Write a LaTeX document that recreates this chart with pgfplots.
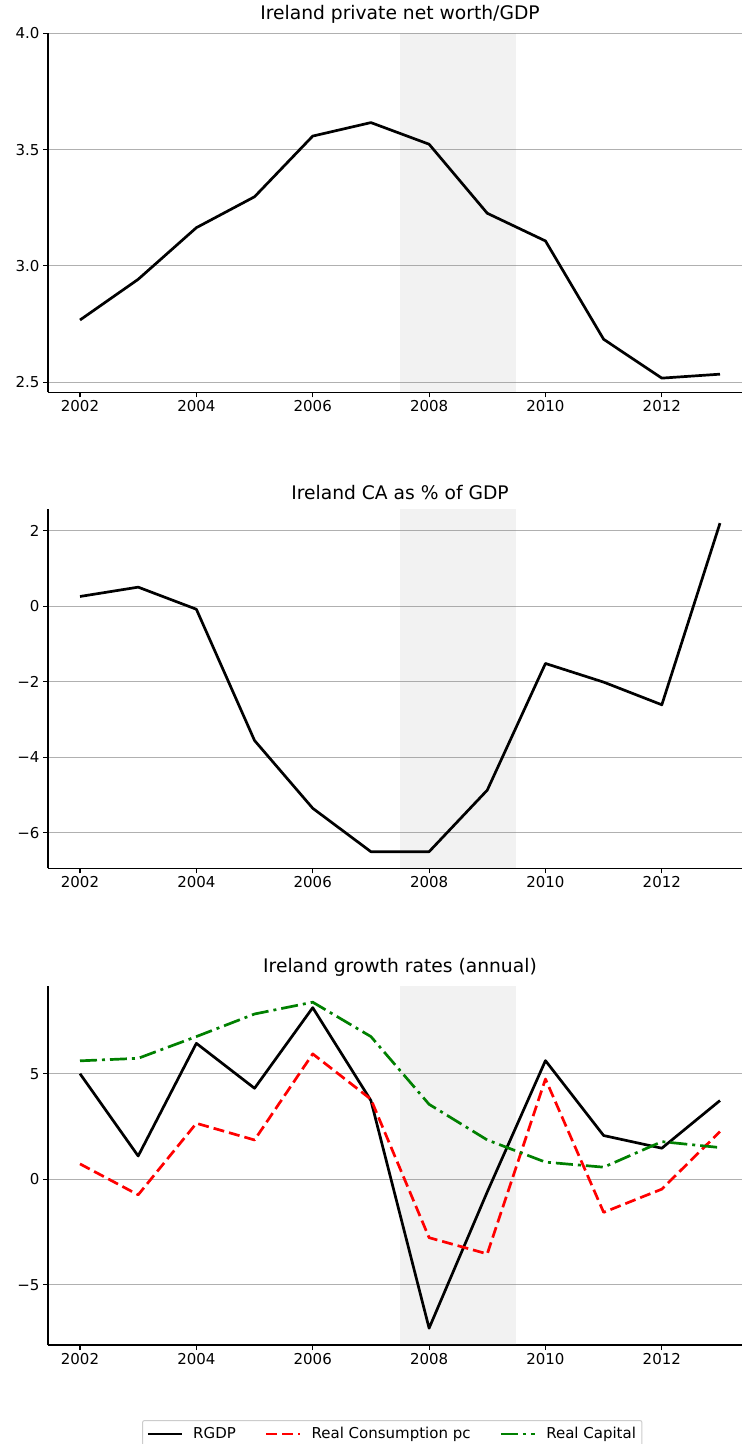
\documentclass[border=0pt]{standalone}
\usepackage{fontspec}
\setmainfont{DejaVu Sans}
\usepackage{pgfplots}
\pgfplotsset{compat=1.18}
\definecolor{gridc}{HTML}{B0B0B0}
\definecolor{mplgreen}{HTML}{008000}
\pgfplotsset{
  mystyle/.style={
    scale only axis, width=704pt, height=359pt,
    xmin=2001.45, xmax=2013.55,
    axis x line*=bottom, axis y line*=left,
    axis line style={line width=1.1pt, -},
    tick align=outside, major tick length=5pt,
    tick style={line width=1.1pt, black},
    xtick={2002,2004,2006,2008,2010,2012},
    xticklabels={2002,2004,2006,2008,2010,2012},
    ymajorgrids, grid style={gridc, line width=1.1pt},
    ticklabel style={font=\fontsize{15}{18}\selectfont},
    title style={font=\fontsize{18.7}{22}\selectfont},
    every axis plot/.append style={line width=2.7pt, line join=round},
    legend image code/.code={\draw[#1] (0pt,0pt) -- (34pt,0pt);},
  },
  shade/.style={draw=none, fill=gray, fill opacity=0.1, forget plot, line width=0pt},
}
\begin{document}
\begin{tikzpicture}
% Axis 1
\begin{axis}[mystyle, at={(48pt,-392.3pt)}, anchor=south west,
  ymin=2.456, ymax=4.0,
  ytick={2.5,3.0,3.5,4.0}, yticklabels={2.5,3.0,3.5,4.0},
  title={Ireland private net worth/GDP}]
\addplot[shade] coordinates {(2007.5,2.456) (2007.5,4.0) (2009.5,4.0) (2009.5,2.456)} --cycle;
\addplot[black] coordinates {
(2002,2.767) (2003,2.942) (2004,3.164) (2005,3.297) (2006,3.558) (2007,3.616)
(2008,3.523) (2009,3.226) (2010,3.107) (2011,2.684) (2012,2.517) (2013,2.534)};
\end{axis}
% Axis 2
\begin{axis}[mystyle, at={(48pt,-868.3pt)}, anchor=south west,
  ymin=-6.94, ymax=2.566,
  ytick={-6,-4,-2,0,2}, yticklabels={−6,−4,−2,0,2},
  title={Ireland CA as \% of GDP}]
\addplot[shade] coordinates {(2007.5,-6.94) (2007.5,2.566) (2009.5,2.566) (2009.5,-6.94)} --cycle;
\addplot[black] coordinates {
(2002,0.258) (2003,0.505) (2004,-0.08) (2005,-3.556) (2006,-5.35) (2007,-6.50)
(2008,-6.50) (2009,-4.87) (2010,-1.516) (2011,-2.01) (2012,-2.61) (2013,2.2)};
\end{axis}
% Axis 3
\begin{axis}[mystyle, at={(48pt,-1345pt)}, anchor=south west,
  ymin=-7.858, ymax=9.156,
  ytick={-5,0,5}, yticklabels={−5,0,5},
  title={Ireland growth rates (annual)},
  legend columns=3,
  legend style={at={(0.489,-0.209)}, anchor=north, draw=gray!40, rounded corners=2pt,
    line width=1pt, font=\fontsize{15}{18}\selectfont, inner xsep=4pt, inner ysep=5pt,
    /tikz/every odd column/.append style={column sep=8pt},
    /tikz/every even column/.append style={column sep=27pt}},
  legend cell align=left]
\addplot[shade] coordinates {(2007.5,-7.858) (2007.5,9.156) (2009.5,9.156) (2009.5,-7.858)} --cycle;
\addplot[black] coordinates {
(2002,5.0) (2003,1.10) (2004,6.44) (2005,4.31) (2006,8.13) (2007,3.73)
(2008,-7.06) (2009,-0.6) (2010,5.62) (2011,2.07) (2012,1.47) (2013,3.73)};
\addlegendentry{RGDP}
\addplot[red, dash pattern=on 11pt off 5pt] coordinates {
(2002,0.725) (2003,-0.74) (2004,2.65) (2005,1.86) (2006,5.94) (2007,3.79)
(2008,-2.77) (2009,-3.54) (2010,4.75) (2011,-1.57) (2012,-0.47) (2013,2.26)};
\addlegendentry{Real Consumption pc}
\addplot[mplgreen, dash pattern=on 17pt off 5pt on 3pt off 5pt] coordinates {
(2002,5.61) (2003,5.73) (2004,6.76) (2005,7.83) (2006,8.39) (2007,6.76)
(2008,3.55) (2009,1.86) (2010,0.81) (2011,0.57) (2012,1.78) (2013,1.50)};
\addlegendentry{Real Capital}
\end{axis}
\pgfresetboundingbox
\useasboundingbox (0pt,0pt) rectangle (742pt,-1444pt);
\end{tikzpicture}
\end{document}
